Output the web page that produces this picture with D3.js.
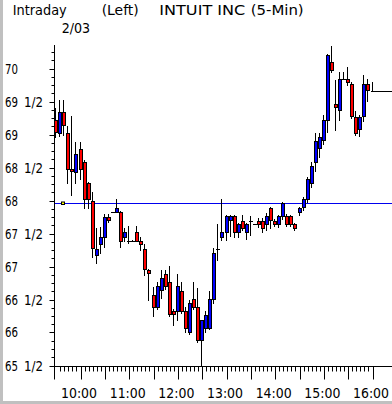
<!DOCTYPE html>
<html><head><meta charset="utf-8">
<script src="https://cdn.jsdelivr.net/npm/d3@7"></script>
<style>
html,body{margin:0;padding:0;background:#fff;}
svg{display:block;}
text{font-family:"Liberation Sans Narrow","DejaVu Sans Condensed","Arial Narrow","Liberation Sans",sans-serif;font-size:14.5px;fill:#000;}
</style></head>
<body>
<svg id="c" width="392" height="404"></svg>
<script>
const times = ["09:30","09:35","09:40","09:45","09:50","09:55","10:00","10:05","10:10","10:15",
"10:20","10:25","10:30","10:35","10:40","10:45","10:50","10:55","11:00","11:05",
"11:10","11:15","11:20","11:25","11:30","11:35","11:40","11:45","11:50","11:55",
"12:00","12:05","12:10","12:15","12:20","12:25","12:30","12:35","12:40","12:45",
"12:50","12:55","13:00","13:05","13:10","13:15","13:20","13:25","13:30","13:35",
"13:40","13:45","13:50","13:55","14:00","14:05","14:10","14:15","14:20","14:25",
"14:30","14:35","14:40","14:45","14:50","14:55","15:00","15:05","15:10","15:15",
"15:20","15:25","15:30","15:35","15:40","15:45","15:50","15:55","16:00"];
const opens = [69.22,69.03,69.34,69.02,68.48,68.43,68.78,68.58,68.26,68.00,
67.18,67.34,67.45,67.75,67.83,67.83,67.82,67.45,67.38,67.38,
67.52,67.38,67.26,66.95,66.57,66.39,66.64,66.88,66.76,66.32,
66.33,66.63,66.33,66.01,66.51,66.39,65.89,66.07,66.07,66.51,
67.26,67.45,67.53,67.71,67.76,67.53,67.69,67.53,67.69,67.65,
67.69,67.69,67.65,67.88,67.69,67.65,67.76,67.76,67.76,67.64,
67.83,67.90,68.03,68.27,68.59,68.79,68.92,69.22,70.10,69.46,
69.37,69.84,69.84,69.77,69.27,69.09,69.28,69.77,69.66];
const highs = [69.40,69.52,69.52,69.13,69.28,68.89,68.89,68.62,68.28,68.13,
67.58,67.60,67.80,67.80,67.83,68.02,67.84,67.58,67.62,67.40,
67.62,67.45,67.34,66.96,66.69,66.77,66.95,66.95,67.01,66.35,
66.89,66.77,66.38,66.50,66.77,66.67,66.19,66.33,66.63,67.28,
67.65,68.02,67.78,67.78,67.78,67.66,67.78,67.66,67.76,67.65,
67.73,67.73,67.81,67.90,67.72,67.78,67.98,67.80,67.78,67.66,
67.90,68.05,68.36,68.59,69.02,69.02,69.30,70.22,70.34,69.83,
69.95,69.95,70.02,69.80,69.35,69.30,69.90,69.84,69.79];
const lows = [68.96,68.97,69.00,68.26,68.08,68.26,68.33,67.89,67.88,67.15,
67.05,67.21,67.30,67.68,67.83,67.83,67.30,67.38,67.36,67.38,
67.38,67.25,66.87,66.49,66.25,66.36,66.52,66.66,66.25,66.12,
66.19,66.30,66.00,65.98,66.36,65.86,65.51,66.00,66.05,66.45,
67.10,67.40,67.40,67.46,67.45,67.45,67.55,67.42,67.48,67.65,
67.60,67.52,67.55,67.58,67.62,67.60,67.72,67.62,67.62,67.55,
67.78,67.86,67.98,68.20,68.45,68.66,68.85,69.04,69.95,69.07,
69.22,69.84,69.75,69.25,69.00,68.97,69.20,69.51,69.66];
const closes = [69.04,69.34,69.15,68.48,68.45,68.71,68.48,68.03,68.03,67.28,
67.26,67.44,67.75,67.71,67.83,67.88,67.39,67.52,67.38,67.38,
67.39,67.34,66.96,66.90,66.39,66.70,66.82,66.70,66.28,66.28,
66.70,66.33,66.07,66.44,66.39,65.89,66.19,66.27,66.51,67.20,
67.26,67.53,67.76,67.76,67.53,67.64,67.59,67.64,67.69,67.65,
67.65,67.59,67.76,67.71,67.65,67.76,67.96,67.65,67.65,67.59,
67.88,68.03,68.32,68.52,68.90,68.96,69.22,70.20,69.98,69.41,
69.84,69.84,69.79,69.28,69.03,69.27,69.77,69.67,69.66];
const prevClose = 67.96;
const lastPrice = 69.66;
const yMajorValues = [65.5,66,66.5,67,67.5,68,68.5,69,69.5,70];
const yMajorInts = ["65","66","66","67","67","68","68","69","69","70"];
const yMajorFracs = ["1/2","","1/2","","1/2","","1/2","","1/2",""];
const xLabelTimes = ["10:00","11:00","12:00","13:00","14:00","15:00","16:00"];
const titleParts = ["Intraday","(Left)","INTUIT INC","(5-Min)"];
const dateLabel = "2/03";

const parse = d3.timeParse("%H:%M");
const svg = d3.select("#c");
const W = 392, H = 404;

const x = d3.scaleTime().domain([parse("09:30"), parse("16:00")]).range([56.2, 372.5]);
const y = d3.scaleLinear().domain([65.5, 70]).range([365.5, 68.5]);

const axisX = 54.5, axisTop = 45, axisY = 366.5;

// gray borders
svg.append("rect").attr("x",0).attr("y",0).attr("width",3).attr("height",H).attr("fill","#c0c0c0");
svg.append("rect").attr("x",0).attr("y",401).attr("width",W).attr("height",3).attr("fill","#c0c0c0");

// header
const tx = [12.7,101.7,159.3,250.7], tl = [54,37,86,53];
titleParts.forEach((t,i)=>{
  svg.append("text").attr("x",tx[i]).attr("y",15).attr("textLength",tl[i]).attr("lengthAdjust","spacingAndGlyphs").text(t);
});
svg.append("text").attr("x",61.7).attr("y",33).attr("textLength",28.5).attr("lengthAdjust","spacingAndGlyphs").text(dateLabel);

// y axis line
svg.append("line").attr("x1",axisX).attr("x2",axisX).attr("y1",axisTop).attr("y2",379.5).attr("stroke","#000");
// x axis line
svg.append("line").attr("x1",54).attr("x2",W).attr("y1",axisY).attr("y2",axisY).attr("stroke","#000");

// y ticks
const minor = d3.range(65.5, 70.51, 0.125).filter(v=>y(v)>=axisTop);
minor.forEach(v=>{
  const yy = Math.round(y(v))+0.5;
  const major = Math.abs(v*2-Math.round(v*2))<1e-6;
  svg.append("line").attr("x1",axisX-(major?5:3)).attr("x2",axisX).attr("y1",yy).attr("y2",yy).attr("stroke","#000");
});
yMajorValues.forEach((v,i)=>{
  const yy = Math.round(y(v))+5;
  svg.append("text").attr("x",5).attr("y",yy).attr("textLength",13).attr("lengthAdjust","spacingAndGlyphs").text(yMajorInts[i]);
  if (yMajorFracs[i]) svg.append("text").attr("x",24).attr("y",yy).attr("textLength",19).attr("lengthAdjust","spacingAndGlyphs").text(yMajorFracs[i]);
});

// x ticks
times.slice(1).forEach(t=>{
  const d = parse(t);
  const xx = Math.round(x(d))+0.5;
  const long = d.getMinutes()%30===0;
  svg.append("line").attr("x1",xx).attr("x2",xx).attr("y1",axisY).attr("y2",axisY+(long?13:5)).attr("stroke","#000");
});
xLabelTimes.forEach(t=>{
  svg.append("text").attr("x",x(parse(t))-1.5).attr("y",398).attr("text-anchor","middle")
    .attr("textLength",36).attr("lengthAdjust","spacingAndGlyphs").text(t);
});

// previous close line (blue) with marker
const pcY = Math.round(y(prevClose))+0.5;
svg.append("line").attr("x1",axisX+0.5).attr("x2",W).attr("y1",pcY).attr("y2",pcY).attr("stroke","#0000ee");
svg.append("rect").attr("x",61.5).attr("y",pcY-1.5).attr("width",3).attr("height",2.5).attr("fill","#ffff00").attr("stroke","#000");

// candles
const g = svg.append("g");
times.forEach((t,i)=>{
  const cx = x(parse(t));
  const p = Math.round(cx-2);
  const o=opens[i], c=closes[i], h=highs[i], l=lows[i];
  const wx = p+1.5;
  g.append("line").attr("x1",wx).attr("x2",wx)
    .attr("y1",Math.round(y(h))).attr("y2",Math.round(y(l))+1).attr("stroke","#000");
  const yt = Math.round(y(Math.max(o,c))), yb = Math.round(y(Math.min(o,c)));
  if (yb-yt < 2) {
    g.append("line").attr("x1",p).attr("x2",p+4).attr("y1",yt+0.5).attr("y2",yt+0.5).attr("stroke","#000");
  } else {
    g.append("rect").attr("x",p+0.5).attr("y",yt+0.5).attr("width",3).attr("height",yb-yt)
      .attr("fill", c>o ? "#0000ff" : "#ff0000").attr("stroke","#000");
  }
});

// last price line
const lpY = Math.round(y(lastPrice))+0.5;
const lastX = Math.round(x(parse(times[times.length-1])))+1;
svg.append("line").attr("x1",lastX).attr("x2",W).attr("y1",lpY).attr("y2",lpY).attr("stroke","#000");
</script>
</body></html>
